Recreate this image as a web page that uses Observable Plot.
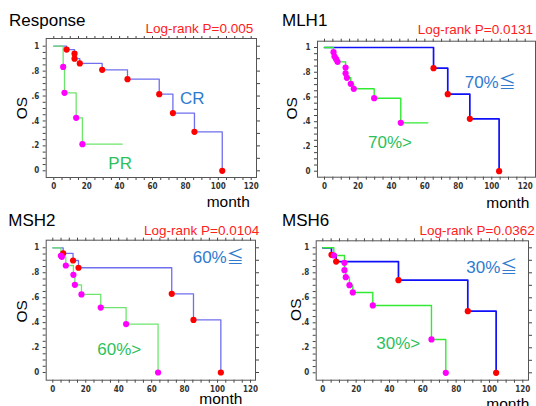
<!DOCTYPE html>
<html><head><meta charset="utf-8">
<script src="https://cdn.jsdelivr.net/npm/d3@7"></script>
<script src="https://cdn.jsdelivr.net/npm/@observablehq/plot@0.6"></script>
<style>
body{margin:0;background:#fff;}
#wrap{position:relative;width:536px;height:406px;overflow:hidden;background:#fff;}
.panel{position:absolute;width:268px;height:203px;}
.panel svg{position:absolute;left:0;top:0;}
#over{position:absolute;left:0;top:0;pointer-events:none;}
</style></head><body><div id="wrap"></div>
<script>
// ---- Data (months, survival) ----
const xTickValues = [0, 20, 40, 60, 80, 100, 120];
const yTickLabels = ["0", ".2", ".4", ".6", ".8", "1"];

// Response
const respCR_t = [0, 7.8, 12.6, 12.6, 15.8, 29.4, 44.8, 64.1, 72.4, 85.5, 102.4];
const respCR_s = [1, 0.973, 0.94, 0.90, 0.862, 0.81, 0.735, 0.615, 0.463, 0.313, 0];
const respPR_t = [0, 5.7, 6.5, 13.6, 17.4];
const respPR_s = [1, 0.834, 0.626, 0.425, 0.214];
const respPR_end = 41.6;

// MLH1
const mlh1Hi_t = [0, 65.2, 73.7, 86.9, 104.4];
const mlh1Hi_s = [1, 0.833, 0.623, 0.423, 0];
const mlh1Lo_t = [0, 5.4, 6.0, 7.0, 7.8, 12.6, 12.6, 13.4, 15.7, 17.5, 29.7, 45.6];
const mlh1Lo_s = [1, 0.962, 0.927, 0.906, 0.884, 0.838, 0.792, 0.755, 0.706, 0.666, 0.59, 0.391];
const mlh1Lo_end = 61.8;

// MSH2
const msh2Hi_t = [0, 6.3, 12.3, 15.6, 72.2, 85.4, 102.0];
const msh2Hi_s = [1, 0.955, 0.898, 0.84, 0.631, 0.422, 0];
const msh2Lo_t = [0, 4.9, 5.5, 7.9, 12.5, 13.4, 17.4, 29.1, 44.5, 63.9];
const msh2Lo_s = [1, 0.936, 0.928, 0.858, 0.783, 0.703, 0.626, 0.521, 0.388, 0];

// MSH6
const msh6Hi_t = [0, 5.2, 8.0, 45.4, 87.0, 104.0];
const msh6Hi_s = [1, 0.944, 0.89, 0.741, 0.493, 0];
const msh6Lo_t = [0, 6.6, 13.0, 13.0, 13.8, 16.0, 18.0, 30.0, 65.2, 73.8];
const msh6Lo_s = [1, 0.939, 0.88, 0.821, 0.765, 0.701, 0.643, 0.539, 0.267, 0];

const titles = ["Response", "MLH1", "MSH2", "MSH6"];
const pvalues = ["Log-rank P=0.005", "Log-rank P=0.0131", "Log-rank P=0.0104", "Log-rank P=0.0362"];
const hiLabels = ["CR", "70%≦", "60%≦", "30%≦"];
const loLabels = ["PR", "70%>", "60%>", "30%>"];

// ---- Layout ----
const panels = [
  {ox:0,   oy:0,   frame:[45.7,256,38,177],   x0:53.3, x120:250.7, y1:45.7, y0:170.3,
   hiT:respCR_t, hiS:respCR_s, loT:respPR_t, loS:respPR_s, loEnd:respPR_end,
   blue:"#6f6ff0", bw:1.3, green:"#6ee66e", gw:1.3,
   title:[9,26], p:[253.3,32.5], os:[26.5,108], month:[206.7,207], hiL:[180,104], loL:[108.3,169]},
  {ox:268, oy:0,   frame:[49,267,40.7,176.7], x0:56, x120:256.7, y1:47, y0:170.7,
   hiT:mlh1Hi_t, hiS:mlh1Hi_s, loT:mlh1Lo_t, loS:mlh1Lo_s, loEnd:mlh1Lo_end,
   blue:"#1010f8", bw:1.7, green:"#33ea33", gw:1.4,
   title:[14,25.7], p:[265,34.3], os:[29.3,108.3], month:[218.3,208], hiL:[196.7,88.3], loL:[100,148.3]},
  {ox:0,   oy:203, frame:[45.7,255,36.7,176.7], x0:52.3, x120:250, y1:44.3, y0:169,
   hiT:msh2Hi_t, hiS:msh2Hi_s, loT:msh2Lo_t, loS:msh2Lo_s, loEnd:null,
   blue:"#6f6ff0", bw:1.3, green:"#6ee66e", gw:1.3,
   title:[8.3,23.3], p:[259.3,31.7], os:[27.3,108.3], month:[199.3,200.5], hiL:[192.7,60], loL:[97.3,151.7]},
  {ox:268, oy:203, frame:[47.7,260,37.3,176.7], x0:54.3, x120:254.3, y1:44.3, y0:169.3,
   hiT:msh6Hi_t, hiS:msh6Hi_s, loT:msh6Lo_t, loS:msh6Lo_s, loEnd:null,
   blue:"#1010f8", bw:1.7, green:"#33ea33", gw:1.4,
   title:[14,23.3], p:[266.7,32.3], os:[33.3,106.7], month:[218.3,206], hiL:[198.3,70], loL:[108.3,146]}
];

const W = 268, H = 203;
const wrap = document.getElementById("wrap");
const xMinor = d3.range(0, 121, 5);
const yMinor = d3.range(0, 21).map(i => i / 20);
const yRight = d3.range(0, 11).map(i => i / 10);
const yLabelVals = yTickLabels.map((_, i) => i / 5);
const fmtY = d => {
  const k = yLabelVals.findIndex(v => Math.abs(v - d) < 1e-6);
  return k >= 0 ? yTickLabels[k] : "";
};
const fmtX = d => xTickValues.includes(d) ? String(d) : "";

panels.forEach((p, idx) => {
  const [fl, fr, ft, fb] = p.frame;
  const hi = p.hiT.map((t, i) => ({t, s: p.hiS[i]}));
  const lo = p.loT.map((t, i) => ({t, s: p.loS[i]}));
  const loLine = p.loEnd != null ? lo.concat([{t: p.loEnd, s: lo[lo.length - 1].s}]) : lo;
  const chart = Plot.plot({
    width: W, height: H,
    marginLeft: fl, marginRight: W - fr, marginTop: ft, marginBottom: H - fb,
    x: {domain: [0, 120], range: [p.x0, p.x120]},
    y: {domain: [0, 1], range: [p.y0, p.y1]},
    style: {background: "transparent", overflow: "visible", fontFamily: "'DejaVu Sans Condensed','Liberation Sans Narrow','DejaVu Sans',sans-serif", fontSize: "8px", fontWeight: "bold", color: "#333"},
    marks: [
      Plot.axisX({anchor: "bottom", ticks: xMinor, tickSize: 3, tickPadding: 3, tickFormat: fmtX, label: null, stroke: "#444"}),
      Plot.axisX({anchor: "top", ticks: xMinor, tickSize: 3, tickFormat: () => "", label: null, stroke: "#444"}),
      Plot.axisY({anchor: "left", ticks: yMinor, tickSize: 3, tickPadding: 4, tickFormat: fmtY, label: null, stroke: "#444"}),
      Plot.axisY({anchor: "right", ticks: yRight, tickSize: 3, tickFormat: () => "", label: null, stroke: "#444"}),
      Plot.frame({stroke: "#555", strokeWidth: 1}),
      Plot.line(hi, {x: "t", y: "s", curve: "step-after", stroke: p.blue, strokeWidth: p.bw}),
      Plot.line(loLine, {x: "t", y: "s", curve: "step-after", stroke: p.green, strokeWidth: p.gw}),
      Plot.dot(hi.slice(1), {x: "t", y: "s", r: 3.1, fill: "#ff0000"}),
      Plot.dot(lo.slice(1), {x: "t", y: "s", r: 3.1, fill: "#ff00ff"})
    ]
  });
  const div = document.createElement("div");
  div.className = "panel";
  div.style.left = p.ox + "px";
  div.style.top = p.oy + "px";
  div.appendChild(chart);
  wrap.appendChild(div);
});

// ---- Text overlay ----
const svg = d3.select(wrap).append("svg").attr("id", "over").attr("width", 536).attr("height", 406);
const sans = "'Liberation Sans', Arial, 'Noto Sans CJK JP', sans-serif";
panels.forEach((p, i) => {
  const g = svg.append("g").attr("transform", `translate(${p.ox},${p.oy})`).style("font-family", sans);
  g.append("text").attr("x", p.title[0]).attr("y", p.title[1]).attr("font-size", 17).attr("fill", "#000").text(titles[i]);
  g.append("text").attr("x", p.p[0]).attr("y", p.p[1]).attr("font-size", 13.5).attr("fill", "#ff2020").attr("text-anchor", "end").text(pvalues[i]);
  g.append("text").attr("transform", `translate(${p.os[0]},${p.os[1]}) rotate(-90)`).attr("font-size", 15.5).attr("fill", "#000").attr("text-anchor", "middle").text("OS");
  g.append("text").attr("x", p.month[0]).attr("y", p.month[1]).attr("font-size", 15.5).attr("fill", "#000").text("month");
  g.append("text").attr("x", p.hiL[0]).attr("y", p.hiL[1]).attr("font-size", 17).attr("fill", "#2e7bd0").text(hiLabels[i]);
  g.append("text").attr("x", p.loL[0]).attr("y", p.loL[1]).attr("font-size", 17).attr("fill", "#2dbf5b").text(loLabels[i]);
});
</script>
</body></html>
